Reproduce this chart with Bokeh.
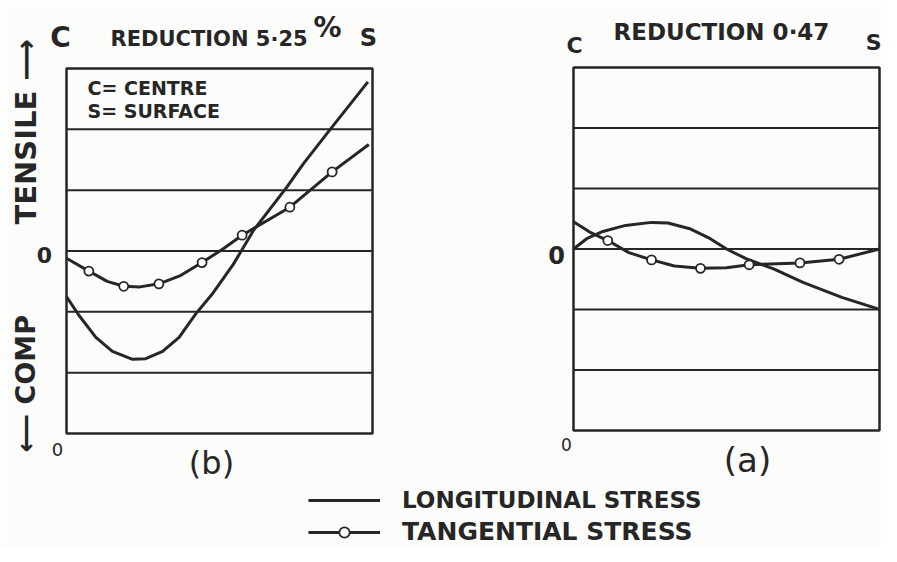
import math
from bokeh.plotting import figure
from bokeh.models import Range1d, Label, Legend, LegendItem
from bokeh.embed import file_html
from bokeh.resources import INLINE

# ---------------- data ----------------
# position across the section: 0 = centre (C), 1 = surface (S); stress in grid units
# (b) reduction 5.25 %
b_long_x = [0, 0.041, 0.096, 0.15, 0.216, 0.259, 0.314, 0.368, 0.423, 0.479, 0.545, 0.61, 0.72, 0.775, 0.865, 0.985]
b_long_y = [-0.75, -1.06, -1.42, -1.65, -1.78, -1.77, -1.65, -1.42, -1.03, -0.69, -0.22, 0.33, 1.05, 1.44, 2.02, 2.78]
b_tang_x = [0, 0.073, 0.133, 0.187, 0.24, 0.302, 0.37, 0.443, 0.51, 0.574, 0.73, 0.868, 0.988]
b_tang_y = [-0.12, -0.33, -0.50, -0.58, -0.59, -0.54, -0.41, -0.19, 0.03, 0.26, 0.72, 1.30, 1.75]
b_pts_x = [0.073, 0.187, 0.302, 0.443, 0.574, 0.73, 0.868]
b_pts_y = [-0.33, -0.58, -0.54, -0.19, 0.26, 0.72, 1.30]
# (a) reduction 0.47
a_long_x = [0, 0.043, 0.096, 0.17, 0.255, 0.309, 0.383, 0.447, 0.5, 0.564, 0.654, 0.75, 0.877, 0.995]
a_long_y = [0.0, 0.17, 0.29, 0.39, 0.44, 0.43, 0.33, 0.17, 0.0, -0.16, -0.33, -0.55, -0.80, -0.99]
a_tang_x = [0, 0.053, 0.112, 0.181, 0.255, 0.33, 0.415, 0.5, 0.574, 0.74, 0.868, 1.0]
a_tang_y = [0.45, 0.28, 0.14, -0.06, -0.18, -0.28, -0.32, -0.31, -0.26, -0.23, -0.17, 0.0]
a_pts_x = [0.112, 0.255, 0.415, 0.574, 0.74, 0.868]
a_pts_y = [0.14, -0.18, -0.32, -0.26, -0.23, -0.17]

grid_levels = [-2, -1, 0, 1, 2]
panel_x = [0, 1]
panel_y = [-3, 3]

# ---------------- layout ----------------
W, H = 881, 546
INK = "#262626"
BG = "#fcfcfa"
FONT = "DejaVu Sans"


def rng(p0, p1, v0, v1, size):
    k = (v1 - v0) / (p1 - p0)
    return Range1d(v0 - p0 * k, v0 + (size - p0) * k)


# panel boxes in canvas pixels (x from left, y from bottom)
p = figure(width=W, height=H, output_backend="svg", toolbar_location=None,
           x_axis_location=None, y_axis_location=None, min_border=0,
           x_range=rng(66, 372, panel_x[0], panel_x[1], W),
           y_range=rng(113, 478, panel_y[0], panel_y[1], H),
           background_fill_color=BG, border_fill_color=BG, outline_line_color=None)
p.title.visible = False
p.grid.visible = False
p.extra_x_ranges = {"a": rng(573, 879, panel_x[0], panel_x[1], W)}
p.extra_y_ranges = {"a": rng(116, 479, panel_y[0], panel_y[1], H)}

for rn in ("default", "a"):
    kw = {} if rn == "default" else dict(x_range_name=rn, y_range_name=rn)
    p.segment(x0=panel_x[0], x1=panel_x[1], y0=grid_levels, y1=grid_levels,
              line_color=INK, line_width=2.0, **kw)
    p.quad(left=[panel_x[0]], right=[panel_x[1]], bottom=[panel_y[0]], top=[panel_y[1]],
           fill_color=None, line_color=INK, line_width=2.5, **kw)

r_long = p.line(b_long_x, b_long_y, line_color=INK, line_width=3.0)
r_tang = p.line(b_tang_x, b_tang_y, line_color=INK, line_width=3.0)
r_pts = p.scatter(b_pts_x, b_pts_y, marker="circle", size=9, fill_color="white",
                  line_color=INK, line_width=1.8)

kw = dict(x_range_name="a", y_range_name="a")
p.line(a_long_x, a_long_y, line_color=INK, line_width=3.0, **kw)
p.line(a_tang_x, a_tang_y, line_color=INK, line_width=3.0, **kw)
p.scatter(a_pts_x, a_pts_y, marker="circle", size=9, fill_color="white",
          line_color=INK, line_width=1.8, **kw)


def txt(text, px, py, size, bold=True, align="center", angle=0.0):
    p.add_layout(Label(x=px, y=H - py, x_units="screen", y_units="screen",
                       text=text, text_font=FONT, text_font_size=f"{size}px",
                       text_font_style="bold" if bold else "normal",
                       text_color=INK, text_align=align, text_baseline="middle",
                       angle=angle))


# left panel (b)
txt("C", 60, 37, 28)
txt("REDUCTION 5·25", 110, 38, 21, align="left")
txt("%", 313, 27, 28, align="left")
txt("S", 368, 37, 24)
txt("C= CENTRE", 87, 87, 19, align="left")
txt("S= SURFACE", 87, 110, 19, align="left")
txt("⟵ COMP", 25, 452, 27, align="left", angle=math.pi / 2)
txt("TENSILE ⟶", 25, 224, 29, align="left", angle=math.pi / 2)
txt("0", 44, 254, 22)
txt("0", 57, 449, 18, bold=False)
txt("(b)", 211, 462, 32, bold=False)

# right panel (a)
txt("C", 574, 45, 22)
txt("REDUCTION 0·47", 613, 31, 23, align="left")
txt("S", 881, 42, 22, align="right")
txt("0", 556, 254, 24)
txt("0", 566, 444, 17, bold=False)
txt("(a)", 747, 459, 34, bold=False)


def legend(item, size, px_left, py_center):
    lg = Legend(items=[item], location=(px_left, H - (py_center + 13)),
                glyph_width=72, glyph_height=26, label_height=26, label_standoff=22,
                padding=0, margin=0, spacing=0, border_line_color=None,
                background_fill_alpha=0, label_text_font=FONT,
                label_text_font_size=f"{size}px", label_text_font_style="bold",
                label_text_color=INK)
    p.add_layout(lg)


legend(LegendItem(label="LONGITUDINAL STRESS", renderers=[r_long]), 23, 308, 500)
legend(LegendItem(label="TANGENTIAL STRESS", renderers=[r_tang, r_pts]), 25, 308, 533)

open("out.html", "w").write(file_html(p, INLINE))
